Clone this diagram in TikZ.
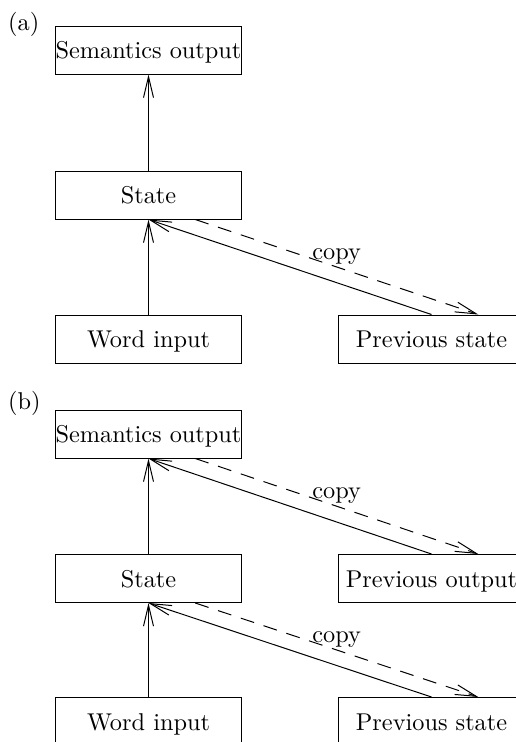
\documentclass[tikz,border=0pt]{standalone}
\usepackage{graphicx}
\usetikzlibrary{arrows.meta,calc}
% Roman text at 10pt, magnified for the figure
\newcommand\lbl[1]{\scalebox{2.43}{#1}}

\begin{document}
\begin{tikzpicture}[x=1pt,y=-1pt,
  box/.style={draw, line width=1pt, minimum width=186pt, minimum height=48pt,
              inner sep=0pt, text height=17pt, text depth=0pt},
  link/.style={line width=1pt, -{Straight Barb[length=21pt,width=10pt]}},
  copyline/.style={link, dash pattern=on 14pt off 10pt},
  tag/.style={inner sep=0pt, anchor=base west},
  copytag/.style={pos=0.5, anchor=base, yshift=7.5pt, inner sep=0pt}]
\useasboundingbox (0,0) rectangle (515,742);

% ---------- (a) ----------
\node[tag] (la) at (8,30) {\lbl{(a)}};
\node[box] (semA)  at (148.5,50)  {\lbl{Semantics output}};
\node[box] (stA)   at (148.5,195) {\lbl{State}};
\node[box] (wordA) at (148.5,339) {\lbl{Word input}};
\node[box] (prevA) at (431.5,339) {\lbl{Previous state}};

\draw[link] (wordA.north) -- (stA.south);
\draw[link] (stA.north) -- (semA.south);
\draw[link] (prevA.north) -- (stA.south);
\draw[copyline] ($(stA.south)!0.5!(stA.south east)$)
  -- node[copytag] {\lbl{copy}} ($(prevA.north)!0.5!(prevA.north east)$);

% ---------- (b) ----------
\node[tag] (lb) at (8,409) {\lbl{(b)}};
\node[box] (semB)    at (148.5,434)   {\lbl{Semantics output}};
\node[box] (stB)     at (148.5,578.5) {\lbl{State}};
\node[box] (prevOut) at (431.5,578.5) {\lbl{Previous output}};
\node[box] (wordB)   at (148.5,721.5) {\lbl{Word input}};
\node[box] (prevB)   at (431.5,721.5) {\lbl{Previous state}};

\draw[link] (stB.north) -- (semB.south);
\draw[link] (prevOut.north) -- (semB.south);
\draw[copyline] ($(semB.south)!0.5!(semB.south east)$)
  -- node[copytag] {\lbl{copy}} ($(prevOut.north)!0.5!(prevOut.north east)$);

\draw[link] (wordB.north) -- (stB.south);
\draw[link] (prevB.north) -- (stB.south);
\draw[copyline] ($(stB.south)!0.5!(stB.south east)$)
  -- node[copytag] {\lbl{copy}} ($(prevB.north)!0.5!(prevB.north east)$);
\end{tikzpicture}
\end{document}
